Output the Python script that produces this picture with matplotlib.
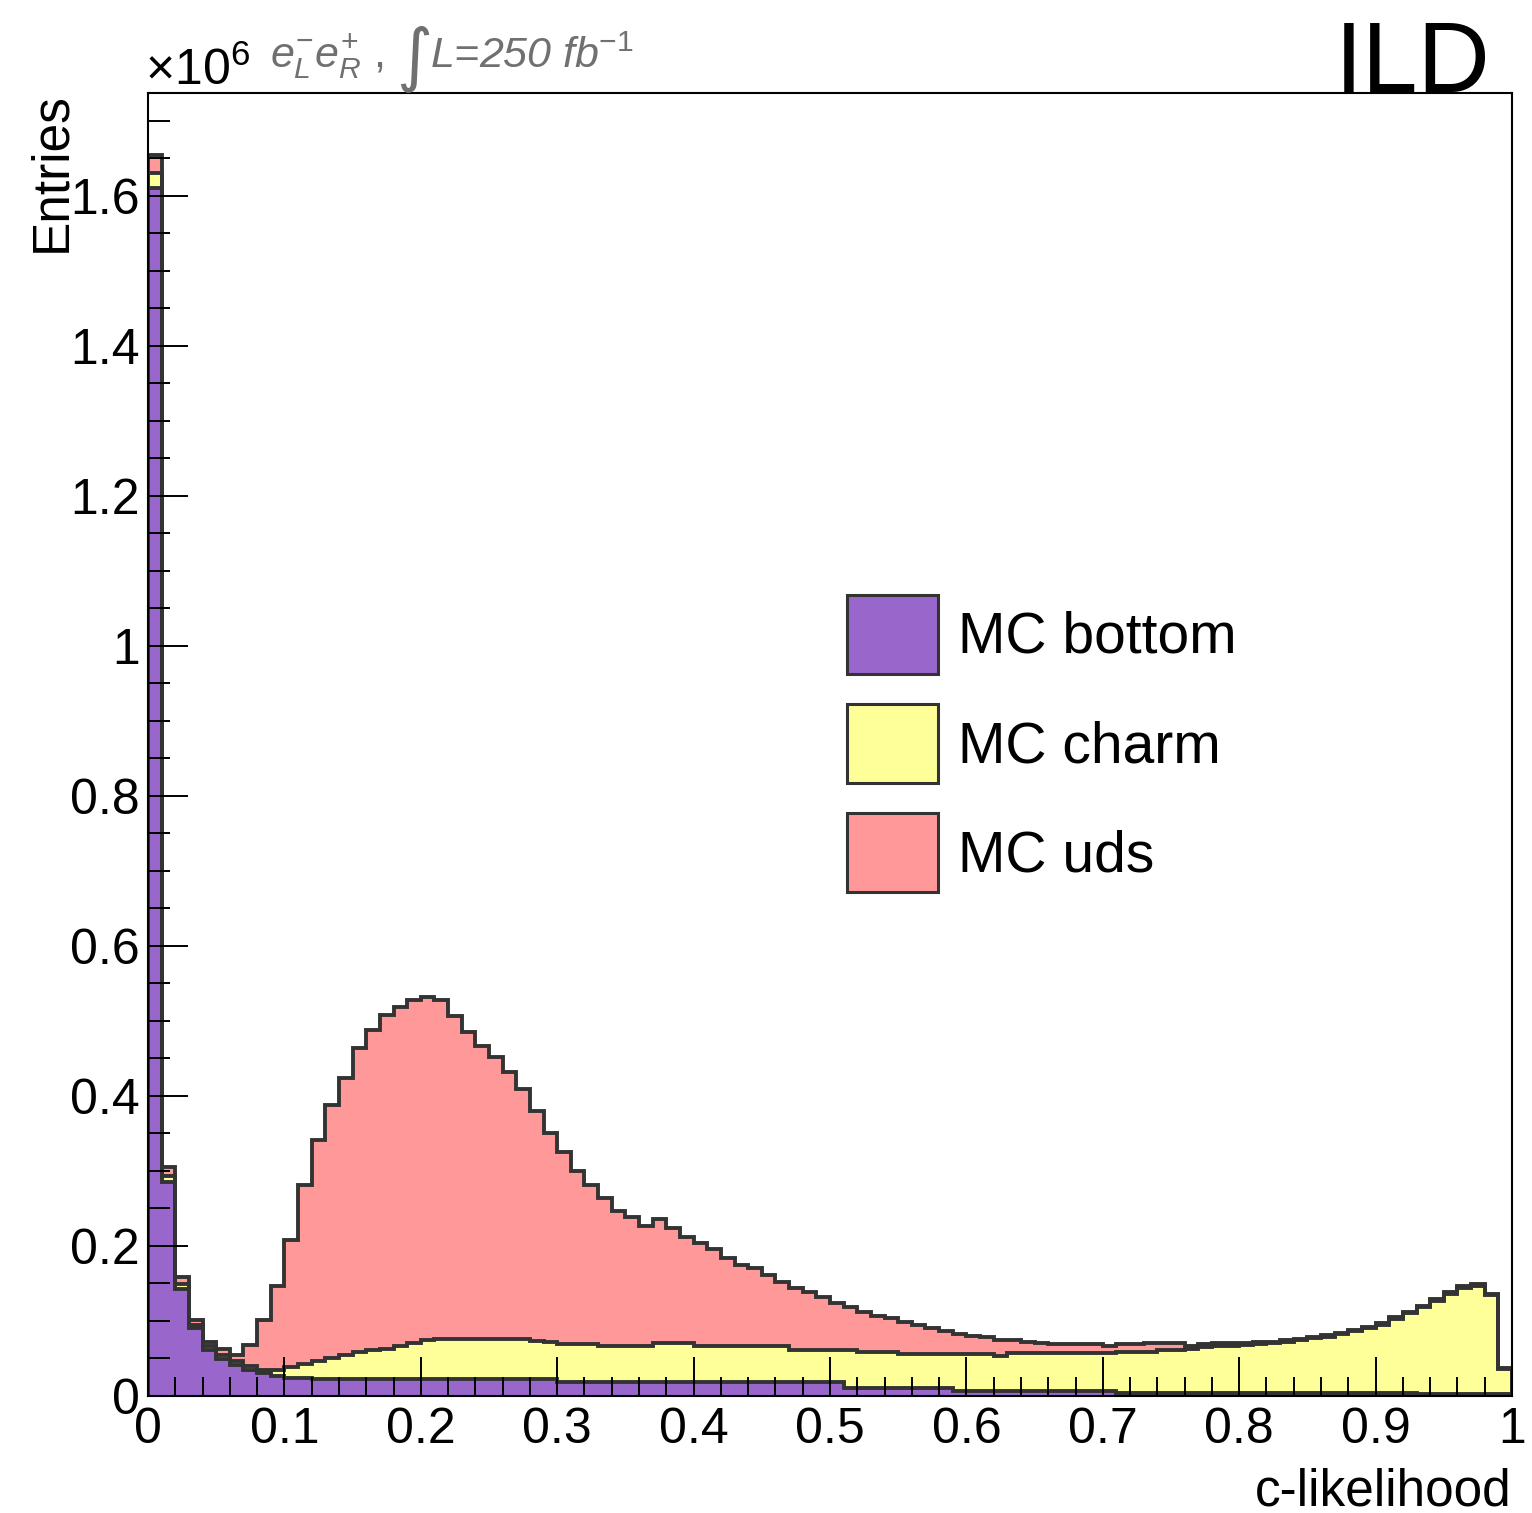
import numpy as np
import matplotlib
matplotlib.use("Agg")
from matplotlib import pyplot as plt
from matplotlib.patches import Patch
from matplotlib.ticker import MultipleLocator, FuncFormatter

# c-likelihood histogram, 100 bins in [0, 1], entries in units of 1e6
bin_edges = np.linspace(0.0, 1.0, 101)

bottom = [
    1.610, 0.285, 0.143, 0.090, 0.061, 0.049, 0.041, 0.035, 0.030, 0.027,
    0.024, 0.024, 0.022, 0.022, 0.022, 0.022, 0.022, 0.022, 0.022, 0.022,
    0.022, 0.022, 0.022, 0.022, 0.022, 0.022, 0.022, 0.022, 0.022, 0.022,
    0.019, 0.019, 0.019, 0.019, 0.019, 0.019, 0.019, 0.019, 0.019, 0.019,
    0.019, 0.019, 0.019, 0.018, 0.018, 0.018, 0.018, 0.018, 0.018, 0.018,
    0.018, 0.011, 0.011, 0.011, 0.011, 0.011, 0.011, 0.011, 0.011, 0.007,
    0.007, 0.007, 0.007, 0.007, 0.007, 0.007, 0.007, 0.007, 0.007, 0.007,
    0.007, 0.004, 0.004, 0.004, 0.004, 0.004, 0.004, 0.004, 0.004, 0.004,
    0.004, 0.004, 0.004, 0.004, 0.004, 0.004, 0.004, 0.004, 0.004, 0.004,
    0.004, 0.004, 0.004, 0.002, 0.002, 0.002, 0.002, 0.002, 0.002, 0.002,
]

charm = [
    0.020, 0.008, 0.006, 0.005, 0.005, 0.005, 0.005, 0.005, 0.004, 0.008,
    0.015, 0.019, 0.025, 0.029, 0.033, 0.036, 0.039, 0.041, 0.044, 0.048,
    0.053, 0.054, 0.054, 0.054, 0.054, 0.054, 0.054, 0.054, 0.051, 0.050,
    0.050, 0.050, 0.050, 0.048, 0.048, 0.048, 0.048, 0.051, 0.051, 0.051,
    0.048, 0.048, 0.048, 0.048, 0.048, 0.048, 0.048, 0.043, 0.043, 0.043,
    0.043, 0.050, 0.047, 0.047, 0.047, 0.045, 0.045, 0.045, 0.045, 0.049,
    0.049, 0.049, 0.046, 0.050, 0.050, 0.050, 0.050, 0.050, 0.050, 0.050,
    0.050, 0.054, 0.054, 0.054, 0.057, 0.057, 0.059, 0.061, 0.062, 0.063,
    0.064, 0.065, 0.066, 0.068, 0.070, 0.073, 0.075, 0.078, 0.082, 0.086,
    0.091, 0.099, 0.106, 0.116, 0.125, 0.134, 0.142, 0.145, 0.132, 0.034,
]

uds = [
    0.025, 0.012, 0.010, 0.006, 0.006, 0.008, 0.009, 0.028, 0.067, 0.112,
    0.169, 0.238, 0.294, 0.337, 0.369, 0.406, 0.427, 0.445, 0.452, 0.458,
    0.457, 0.452, 0.430, 0.409, 0.390, 0.376, 0.356, 0.333, 0.307, 0.279,
    0.256, 0.231, 0.212, 0.197, 0.180, 0.172, 0.160, 0.166, 0.154, 0.142,
    0.137, 0.129, 0.117, 0.109, 0.104, 0.095, 0.086, 0.083, 0.077, 0.071,
    0.063, 0.057, 0.054, 0.049, 0.046, 0.042, 0.039, 0.034, 0.030, 0.027,
    0.024, 0.022, 0.022, 0.017, 0.015, 0.014, 0.012, 0.012, 0.012, 0.012,
    0.010, 0.011, 0.011, 0.013, 0.010, 0.010, 0.004, 0.004, 0.004, 0.003,
    0.003, 0.003, 0.002, 0.002, 0.002, 0.002, 0.002, 0.002, 0.002, 0.002,
    0.002, 0.002, 0.002, 0.002, 0.002, 0.002, 0.002, 0.002, 0.002, 0.001,
]

labels = ["MC bottom", "MC charm", "MC uds"]
colors = ["#9966cc", "#ffff99", "#ff9999"]
line_col = "#333333"
grey = "#707070"

plt.rcParams["font.family"] = ["Liberation Sans", "DejaVu Sans"]
plt.rcParams["mathtext.fontset"] = "custom"
plt.rcParams["mathtext.rm"] = "Liberation Sans"
plt.rcParams["mathtext.it"] = "Liberation Sans:italic"
plt.rcParams["mathtext.bf"] = "Liberation Sans:bold"

W, H = 1532, 1513
fig = plt.figure(figsize=(W / 100, H / 100), dpi=100)
ax = fig.add_axes([148 / W, 1 - 1396 / H, (1512 - 148) / W, (1396 - 93) / H])

# stacked, drawn top layer first like THStack
stack = np.cumsum([bottom, charm, uds], axis=0)
for i in [2, 1, 0]:
    ax.stairs(stack[i], bin_edges, baseline=0, fill=True, color=colors[i], zorder=1)
    ax.stairs(stack[i], bin_edges, baseline=0, fill=False, color=line_col,
              linewidth=2.8, zorder=1.5)

ax.set_xlim(0, 1)
ax.set_ylim(0, 1.737)

ax.xaxis.set_major_locator(MultipleLocator(0.1))
ax.xaxis.set_minor_locator(MultipleLocator(0.02))
ax.yaxis.set_major_locator(MultipleLocator(0.2))
ax.yaxis.set_minor_locator(MultipleLocator(0.05))
fmt = FuncFormatter(lambda v, p: "%g" % round(v, 3))
ax.xaxis.set_major_formatter(fmt)
ax.yaxis.set_major_formatter(fmt)

ax.tick_params(which="both", direction="in", top=False, right=False,
               width=1.4, color="black", labelsize=36)
ax.tick_params(axis="x", which="major", length=28, pad=8)
ax.tick_params(axis="x", which="minor", length=14)
ax.tick_params(axis="y", which="major", length=29, pad=6)
ax.tick_params(axis="y", which="minor", length=16)
for s in ax.spines.values():
    s.set_linewidth(1.5)
    s.set_zorder(3)

# axis titles
fig.text(1512 / W, 1 - 1505 / H, "c-likelihood", ha="right", va="baseline", fontsize=37)
fig.text(27 / W, 1 - 92 / H, "Entries", rotation=90, ha="left", va="top", fontsize=37)

# exponent and run info
fig.text(145 / W, 1 - 85 / H, r"$\times$10$^{6}$", ha="left", va="baseline", fontsize=36)
fig.text(270 / W, 1 - 68 / H, r"$e^{-}_{L}e^{+}_{R}$ ,",
         ha="left", va="baseline", fontsize=31, color=grey)
fig.text(396 / W, 1 - 78 / H, "\u222b", ha="left", va="baseline", fontsize=50,
         color=grey, family="DejaVu Sans")
fig.text(430 / W, 1 - 68 / H, r"L=250 fb$^{\mathit{-1}}$",
         ha="left", va="baseline", fontsize=31, color=grey, fontstyle="italic")

fig.text(1490 / W, 1 - 92 / H, "ILD", ha="right", va="baseline", fontsize=72)

handles = [Patch(facecolor=c, edgecolor=line_col, linewidth=2.2) for c in colors]
ax.legend(handles, labels, loc="upper left",
          bbox_to_anchor=(847 / W, 1 - 595 / H), bbox_transform=fig.transFigure,
          frameon=False, fontsize=41, handlelength=1.6, handleheight=1.757,
          handletextpad=0.35, labelspacing=0.53, borderpad=0, borderaxespad=0)

fig.savefig("out.png", dpi=100)
